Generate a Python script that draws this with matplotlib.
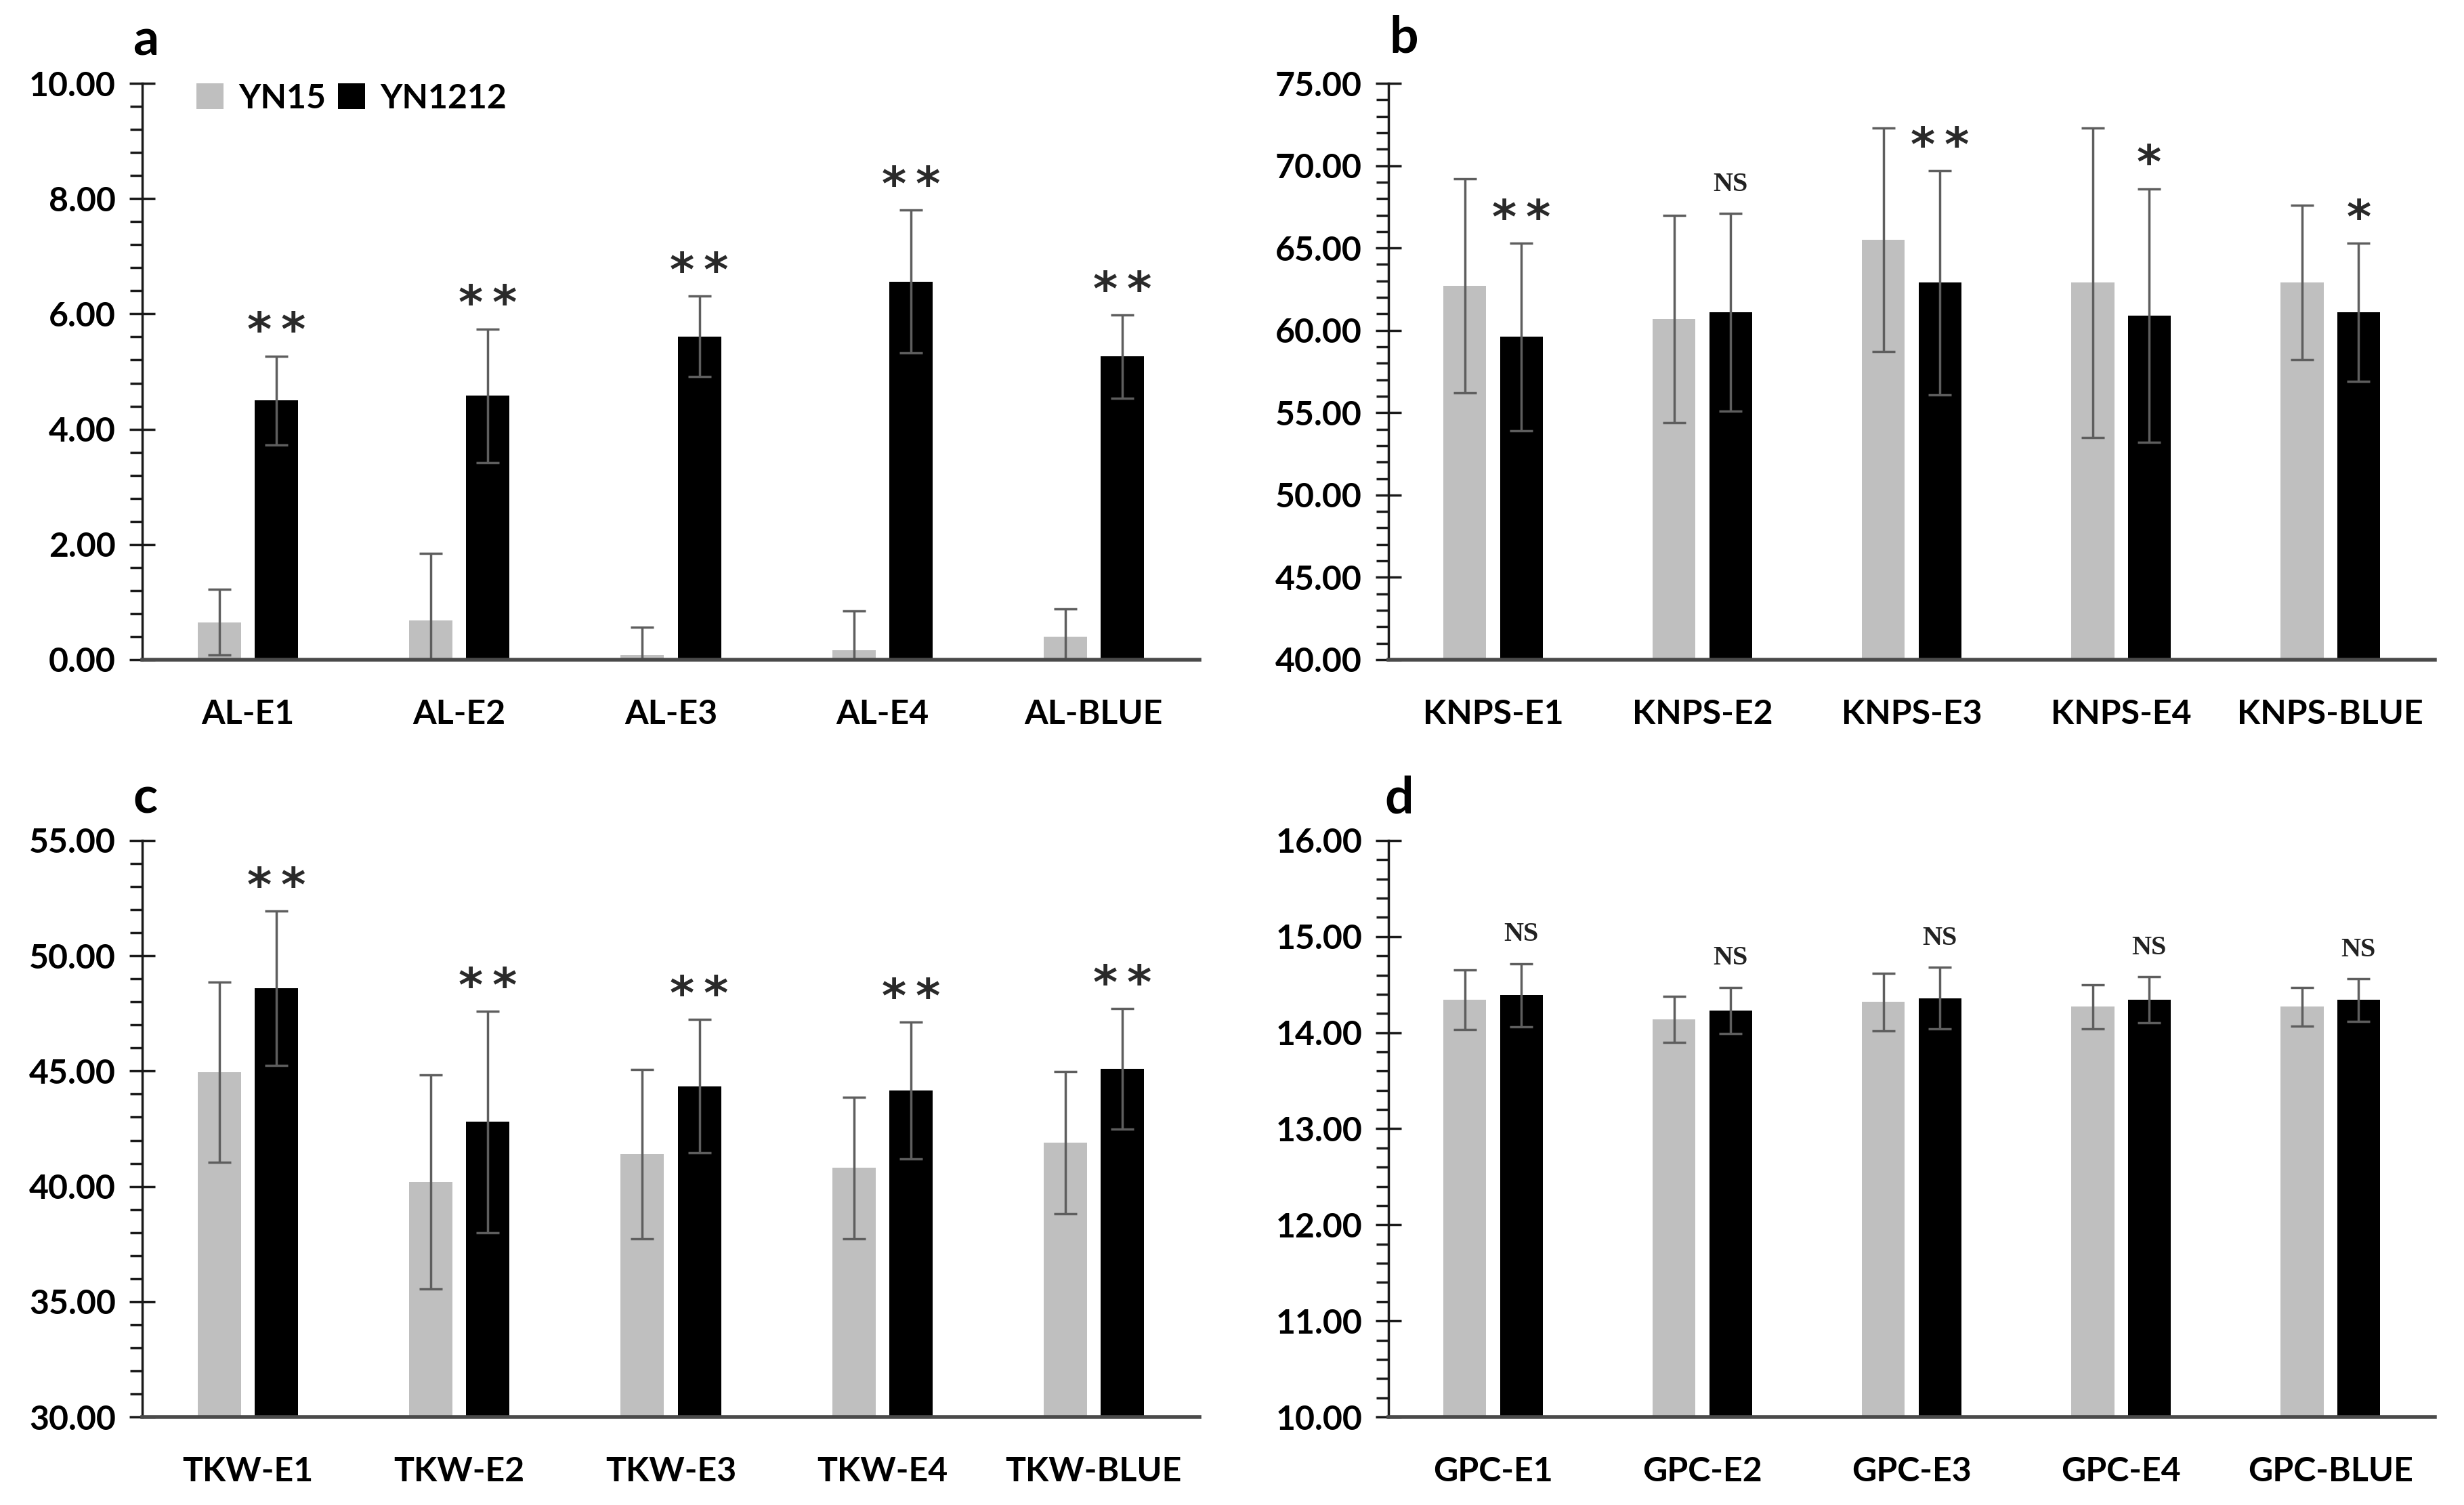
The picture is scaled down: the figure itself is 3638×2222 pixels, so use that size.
import matplotlib
matplotlib.use('Agg')
import matplotlib.pyplot as plt
import numpy as np
from matplotlib.ticker import MultipleLocator, FormatStrFormatter

plt.rcParams['font.family'] = ['Lato', 'DejaVu Sans']
plt.rcParams['font.weight'] = 'bold'

# ---------------- data ----------------
series_names = ['YN15', 'YN1212']

al_labels = ['AL-E1', 'AL-E2', 'AL-E3', 'AL-E4', 'AL-BLUE']
al_yn15 = [0.65, 0.68, 0.08, 0.16, 0.40]
al_yn15_sd = [0.57, 1.17, 0.48, 0.69, 0.48]
al_yn1212 = [4.50, 4.58, 5.61, 6.56, 5.26]
al_yn1212_sd = [0.77, 1.16, 0.70, 1.24, 0.72]
al_sig = ['**', '**', '**', '**', '**']

knps_labels = ['KNPS-E1', 'KNPS-E2', 'KNPS-E3', 'KNPS-E4', 'KNPS-BLUE']
knps_yn15 = [62.7, 60.7, 65.5, 62.9, 62.9]
knps_yn15_sd = [6.5, 6.3, 6.8, 9.4, 4.7]
knps_yn1212 = [59.6, 61.1, 62.9, 60.9, 61.1]
knps_yn1212_sd = [5.7, 6.0, 6.8, 7.7, 4.2]
knps_sig = ['**', 'NS', '**', '*', '*']

tkw_labels = ['TKW-E1', 'TKW-E2', 'TKW-E3', 'TKW-E4', 'TKW-BLUE']
tkw_yn15 = [44.96, 40.2, 41.4, 40.8, 41.9]
tkw_yn15_sd = [3.9, 4.65, 3.67, 3.07, 3.08]
tkw_yn1212 = [48.6, 42.8, 44.35, 44.15, 45.1]
tkw_yn1212_sd = [3.35, 4.8, 2.88, 2.97, 2.6]
tkw_sig = ['**', '**', '**', '**', '**']

gpc_labels = ['GPC-E1', 'GPC-E2', 'GPC-E3', 'GPC-E4', 'GPC-BLUE']
gpc_yn15 = [14.34, 14.14, 14.32, 14.27, 14.27]
gpc_yn15_sd = [0.31, 0.24, 0.30, 0.23, 0.20]
gpc_yn1212 = [14.39, 14.23, 14.36, 14.34, 14.34]
gpc_yn1212_sd = [0.33, 0.24, 0.32, 0.24, 0.22]
gpc_sig = ['NS', 'NS', 'NS', 'NS', 'NS']

# ---------------- style ----------------
GREY = '#bfbfbf'
BLACK = '#000000'
ERR = '#5e5e5e'
TICK_FS = 36
W = 3638
H = 2222

fig = plt.figure(figsize=(W / 100, H / 100), dpi=100)

panels = [
    dict(letter='a', pos=[0.0577, 0.5617, 0.4291, 0.3829], lt=(0.0539, 0.9635),
         labels=al_labels, g=al_yn15, gs=al_yn15_sd, b=al_yn1212, bs=al_yn1212_sd,
         sig=al_sig, ylim=(0, 10), major=2, minor=0.4, legend=True),
    dict(letter='b', pos=[0.5635, 0.5617, 0.4247, 0.3829], lt=(0.5640, 0.9650),
         labels=knps_labels, g=knps_yn15, gs=knps_yn15_sd, b=knps_yn1212, bs=knps_yn1212_sd,
         sig=knps_sig, ylim=(40, 75), major=5, minor=1, legend=False),
    dict(letter='c', pos=[0.0577, 0.0585, 0.4291, 0.3830], lt=(0.0539, 0.4595),
         labels=tkw_labels, g=tkw_yn15, gs=tkw_yn15_sd, b=tkw_yn1212, bs=tkw_yn1212_sd,
         sig=tkw_sig, ylim=(30, 55), major=5, minor=1, legend=False),
    dict(letter='d', pos=[0.5635, 0.0585, 0.4247, 0.3830], lt=(0.5620, 0.4595),
         labels=gpc_labels, g=gpc_yn15, gs=gpc_yn15_sd, b=gpc_yn1212, bs=gpc_yn1212_sd,
         sig=gpc_sig, ylim=(10, 16), major=1, minor=0.2, legend=False),
]

bw = 0.205
off = 0.135

for p in panels:
    ax = fig.add_axes(p['pos'])
    x = np.arange(len(p['labels']))
    ekw = dict(ecolor=ERR, elinewidth=2.5, capsize=12, capthick=2.5)
    bars1 = ax.bar(x - off, p['g'], bw, color=GREY, label=series_names[0],
                   yerr=p['gs'], error_kw=ekw, zorder=2)
    bars2 = ax.bar(x + off, p['b'], bw, color=BLACK, label=series_names[1],
                   yerr=p['bs'], error_kw=ekw, zorder=2)
    ax.set_xlim(-0.5, len(x) - 0.5)
    ax.set_ylim(*p['ylim'])
    ax.yaxis.set_major_locator(MultipleLocator(p['major']))
    ax.yaxis.set_minor_locator(MultipleLocator(p['minor']))
    ax.yaxis.set_major_formatter(FormatStrFormatter('%.2f'))
    ax.set_xticks(x)
    ax.set_xticklabels(p['labels'])
    for s in ['top', 'right']:
        ax.spines[s].set_visible(False)
    ax.spines['left'].set_linewidth(2.5)
    ax.spines['left'].set_color('#1a1a1a')
    ax.spines['bottom'].set_linewidth(4)
    ax.spines['bottom'].set_color('#4a4a4a')
    ax.spines['bottom'].set_zorder(5)
    ax.tick_params(axis='y', which='major', direction='inout', length=28, width=2.5,
                   color='#1a1a1a', pad=14, labelsize=TICK_FS)
    ax.tick_params(axis='y', which='minor', direction='out', length=13, width=2.5,
                   color='#1a1a1a')
    ax.tick_params(axis='x', which='both', length=0, pad=42, labelsize=TICK_FS)
    for lab in ax.get_xticklabels() + ax.get_yticklabels():
        lab.set_fontweight('bold')

    # significance marks above the YN1212 error bar
    for xi, m, s, sig in zip(x, p['b'], p['bs'], p['sig']):
        if sig == 'NS':
            ax.annotate(sig, (xi + off, m + s), xytext=(0, 31), textcoords='offset points',
                        ha='center', va='center', fontsize=29, fontweight='bold',
                        family=['Liberation Serif', 'DejaVu Serif'], color='#222222')
        else:
            shown = '\u2009'.join(sig)
            ax.annotate(shown, (xi + off, m + s), xytext=(0, 25), textcoords='offset points',
                        ha='center', va='center', fontsize=50, fontweight='bold',
                        family=['DejaVu Sans'], color='#2a2a2a')

    fig.text(p['lt'][0], p['lt'][1], p['letter'], fontsize=54, fontweight='bold',
             ha='left', va='baseline')

    if p['legend']:
        fig.legend(handles=[bars1, bars2], labels=series_names, loc='center left',
                   bbox_to_anchor=(0.0797, 0.9347), bbox_transform=fig.transFigure,
                   ncol=2, frameon=False, handlelength=0.8,
                   handleheight=0.8, handletextpad=0.45, columnspacing=0.35,
                   borderpad=0, borderaxespad=0, prop=dict(weight='bold', size=TICK_FS))

fig.savefig('out.png', dpi=100)
